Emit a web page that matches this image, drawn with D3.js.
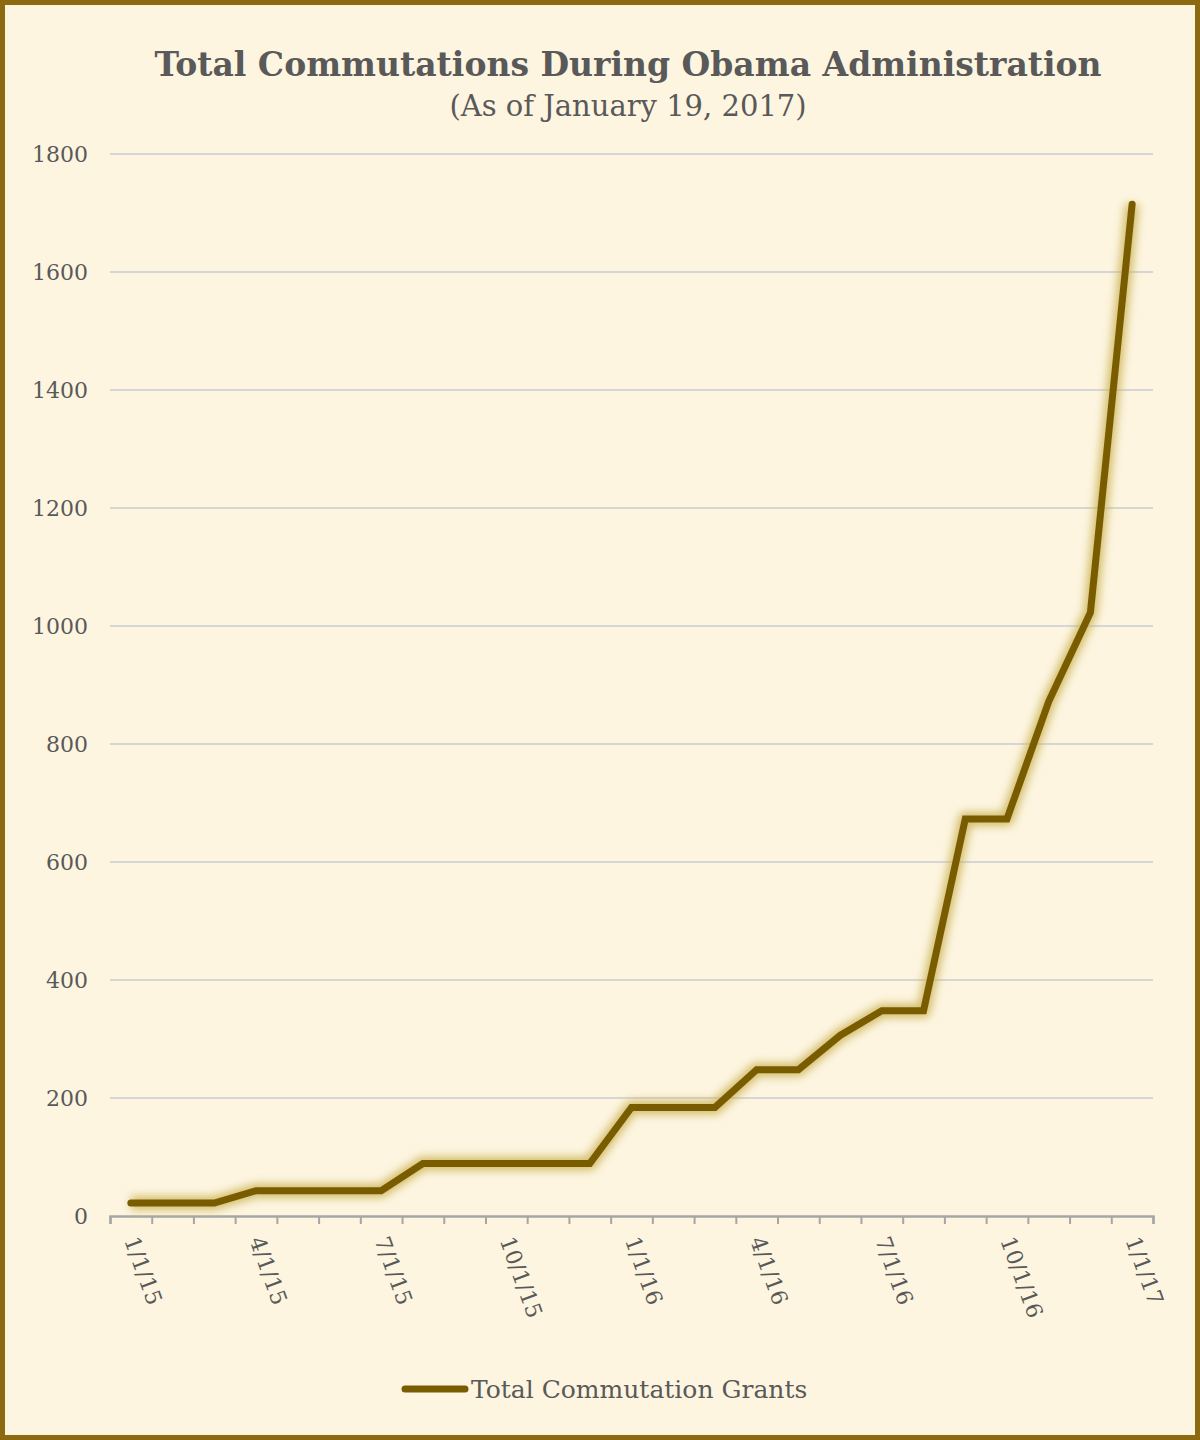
<!DOCTYPE html>
<html>
<head>
<meta charset="utf-8">
<script src="https://cdn.jsdelivr.net/npm/d3@7"></script>
<style>
  html, body { margin: 0; padding: 0; background: #fdf5e0; }
  svg { display: block; }
</style>
</head>
<body>
<svg id="chart" width="1200" height="1440"></svg>
<script>
// Monthly totals, Jan 2015 .. Jan 2017
const months = d3.range(25).map(i => new Date(2015, i, 1));
const grants = [22, 22, 22, 43, 43, 43, 43, 89, 89, 89, 89, 89,
                184, 184, 184, 248, 248, 306, 348, 348, 673, 673, 872, 1023, 1715];
const yTicks = [0, 200, 400, 600, 800, 1000, 1200, 1400, 1600, 1800];
const xTickLabels = ['1/1/15', '4/1/15', '7/1/15', '10/1/15', '1/1/16', '4/1/16', '7/1/16', '10/1/16', '1/1/17'];

const W = 1200, H = 1440;
const MARGIN = { top: 154, right: 47, bottom: 224, left: 110 };
const svg = d3.select('#chart');
const serif = '"DejaVu Serif", "Liberation Serif", Georgia, serif';

svg.append('rect').attr('x', 2.5).attr('y', 2.5).attr('width', W - 5).attr('height', H - 5)
  .attr('fill', '#fdf5e0').attr('stroke', '#8b6a12').attr('stroke-width', 5);

const defs = svg.append('defs');
defs.append('filter').attr('id', 'glow').attr('x', '-10%').attr('y', '-10%').attr('width', '120%').attr('height', '120%')
  .append('feGaussianBlur').attr('stdDeviation', 4);

const x = d3.scaleLinear().domain([0, 25]).range([MARGIN.left, W - MARGIN.right]);
const y = d3.scaleLinear().domain([0, 1800]).range([H - MARGIN.bottom, MARGIN.top]);

// gridlines
svg.append('g').selectAll('line').data(yTicks.slice(1)).join('line')
  .attr('x1', x(0)).attr('x2', x(25)).attr('y1', d => y(d)).attr('y2', d => y(d))
  .attr('stroke', '#d6d6d6').attr('stroke-width', 2);

// y labels
svg.append('g').selectAll('text').data(yTicks).join('text')
  .attr('x', 88).attr('y', d => y(d) + 8).attr('text-anchor', 'end')
  .attr('font-family', serif).attr('font-size', 22).attr('fill', '#595959')
  .text(d => d);

// x axis
const xAxis = d3.axisBottom(x).tickValues(d3.range(26)).tickSize(8).tickFormat('');
const gx = svg.append('g').attr('transform', `translate(0,${y(0)})`).call(xAxis);
gx.select('.domain').attr('stroke', '#a6a6a6').attr('stroke-width', 2.5);
gx.selectAll('.tick line').attr('stroke', '#a6a6a6').attr('stroke-width', 2);

svg.append('g').selectAll('text').data(xTickLabels).join('text')
  .attr('transform', (d, i) => `translate(${x(i * 3) + 14},${y(0) + 24}) rotate(70)`)
  .attr('font-family', serif).attr('font-size', 22).attr('fill', '#595959')
  .text(d => d);

// line with glow
const line = d3.line().x((d, i) => x(i + 0.5)).y(d => y(d));
svg.append('path').datum(grants).attr('d', line)
  .attr('fill', 'none').attr('stroke', '#c9b050').attr('stroke-width', 14)
  .attr('stroke-linejoin', 'round').attr('filter', 'url(#glow)').attr('opacity', 0.8);
svg.append('path').datum(grants).attr('d', line)
  .attr('fill', 'none').attr('stroke', '#7a5c00').attr('stroke-width', 7)
  .attr('stroke-linejoin', 'miter').attr('stroke-linecap', 'round');

// titles
svg.append('text').attr('x', 628).attr('y', 76).attr('text-anchor', 'middle')
  .attr('font-family', serif).attr('font-weight', 'bold').attr('font-size', 33).attr('fill', '#595959')
  .text('Total Commutations During Obama Administration');
svg.append('text').attr('x', 628).attr('y', 116).attr('text-anchor', 'middle')
  .attr('font-family', serif).attr('font-size', 29).attr('fill', '#595959')
  .text('(As of January 19, 2017)');

// legend
svg.append('line').attr('x1', 405).attr('x2', 465).attr('y1', 1389).attr('y2', 1389)
  .attr('stroke', '#7a5c00').attr('stroke-width', 7).attr('stroke-linecap', 'round');
svg.append('text').attr('x', 471).attr('y', 1398)
  .attr('font-family', serif).attr('font-size', 25).attr('fill', '#595959')
  .text('Total Commutation Grants');
</script>
</body>
</html>
